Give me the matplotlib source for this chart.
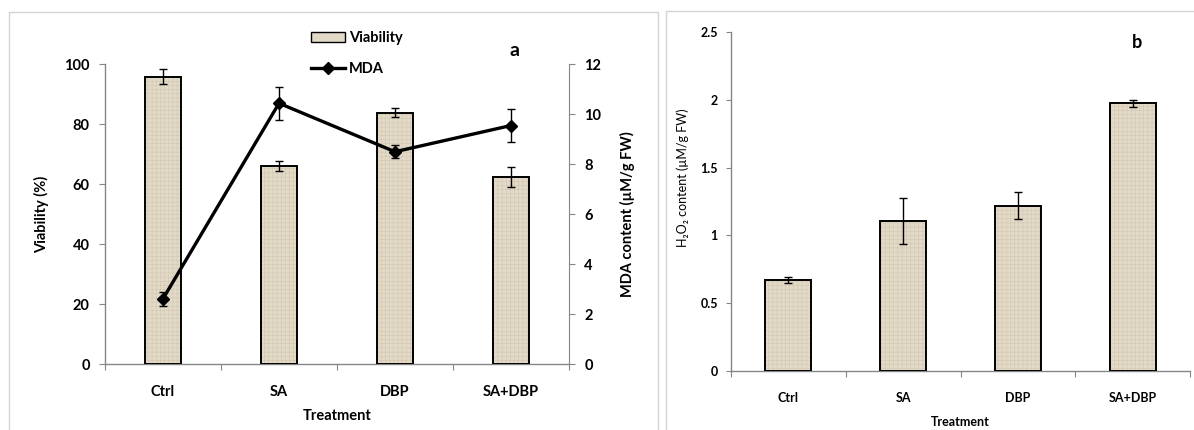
import matplotlib
matplotlib.use("Agg")
import matplotlib.pyplot as plt
from matplotlib.patches import Rectangle, Patch
from matplotlib.lines import Line2D

plt.rcParams['font.family'] = ['Lato', 'DejaVu Sans']
plt.rcParams['font.weight'] = 'bold'
plt.rcParams['hatch.linewidth'] = 0.35

# ---------------- data ----------------
categories = ["Ctrl", "SA", "DBP", "SA+DBP"]
viability = [95.8, 66.1, 83.8, 62.4]
viability_err = [2.4, 1.7, 1.6, 3.3]
mda = [2.61, 10.43, 8.49, 9.54]
mda_err = [0.29, 0.65, 0.27, 0.66]
h2o2 = [0.671, 1.106, 1.219, 1.974]
h2o2_err = [0.021, 0.17, 0.10, 0.026]

W, H = 1194, 430
fig = plt.figure(figsize=(W / 100, H / 100), dpi=100)

def fx(px):
    return px / W

def fy(py):
    return 1 - py / H

AXC = '#868686'
FACE = '#e2d9c7'
HATCHC = '#d0c5af'
FSA = 10.5
FSB = 9

# panel frames
fig.add_artist(Rectangle((fx(9), fy(440)), fx(658) - fx(9), fy(12) - fy(440),
                         transform=fig.transFigure, fill=False, ec='#d4d4d4', lw=1.0))
fig.add_artist(Rectangle((fx(666), fy(440)), fx(1200) - fx(666), fy(11) - fy(440),
                         transform=fig.transFigure, fill=False, ec='#d4d4d4', lw=1.0))

xpos = [i + 0.5 for i in range(len(categories))]


def style_axes(ax, tick_fs, xlab_pad):
    ax.set_xlim(0, len(categories))
    ax.set_xticks(range(len(categories) + 1))
    ax.set_xticklabels([])
    ax.set_xticks(xpos, minor=True)
    ax.set_xticklabels(categories, minor=True, fontsize=tick_fs, fontweight='bold')
    ax.tick_params(axis='x', which='minor', length=0, pad=xlab_pad)
    ax.tick_params(axis='x', which='major', length=4, direction='out', color=AXC)
    ax.spines['top'].set_visible(False)
    for s in ('left', 'bottom', 'right'):
        ax.spines[s].set_color(AXC)
        ax.spines[s].set_linewidth(1.0)


def draw_bars(ax, vals, errs, width):
    ax.bar(xpos, vals, width=width, color=FACE, hatch='++++', edgecolor=HATCHC,
           linewidth=0, zorder=2)
    ax.bar(xpos, vals, width=width, facecolor='none', edgecolor='black',
           linewidth=1.4, zorder=3)
    ax.errorbar(xpos, vals, yerr=errs, fmt='none', ecolor='black', elinewidth=1.0,
                capsize=3, capthick=1.0, zorder=4)


# ---------------- panel a ----------------
axa = fig.add_axes([fx(105), fy(364), fx(569) - fx(105), fy(64) - fy(364)])
draw_bars(axa, viability, viability_err, 0.315)
axa.set_ylim(0, 100)
axa.set_yticks(range(0, 101, 20))
axa.tick_params(axis='y', length=4, direction='out', color=AXC, labelsize=FSA, pad=7)
style_axes(axa, FSA, 15)
axa.spines['right'].set_visible(False)
axa.set_ylabel("Viability (%)", fontsize=FSA, fontweight='bold', va='center')
axa.yaxis.set_label_coords((42 - 105) / 464, 0.5)
axa.set_xlabel("Treatment", fontsize=FSA, fontweight='bold', va='center')
axa.xaxis.set_label_coords(0.5, (364 - 416) / 300)

axr = axa.twinx()
axr.plot(xpos, mda, color='black', lw=2.4, marker='D', markersize=6, zorder=5)
axr.errorbar(xpos, mda, yerr=mda_err, fmt='none', ecolor='black', elinewidth=1.0,
             capsize=3, capthick=1.0, zorder=5)
axr.set_ylim(0, 12)
axr.set_yticks(range(0, 13, 2))
axr.tick_params(axis='y', length=4, direction='out', color=AXC, labelsize=FSA, pad=7)
axr.spines['top'].set_visible(False)
axr.spines['left'].set_visible(False)
axr.spines['bottom'].set_visible(False)
axr.spines['right'].set_color(AXC)
axr.set_ylabel("MDA content (µM/g FW)", fontsize=FSA, fontweight='bold',
               rotation=90, va='center')
axr.yaxis.set_label_coords((627 - 105) / 464, 0.5)

handles = [Patch(facecolor=FACE, edgecolor='black', linewidth=1.0),
           Line2D([0], [0], color='black', lw=2.4, marker='D', markersize=6)]
fig.legend(handles, ["Viability", "MDA"], loc='upper left',
           bbox_to_anchor=(fx(311), fy(31)), frameon=False,
           handlelength=2.3, handleheight=0.65, handletextpad=0.3, labelspacing=1.15,
           borderpad=0, borderaxespad=0, prop={'weight': 'bold', 'size': FSA})

fig.text(fx(515), fy(51), "a", fontsize=14, fontweight='bold', ha='center', va='center')

# ---------------- panel b ----------------
axb = fig.add_axes([fx(731), fy(371), fx(1190) - fx(731), fy(32) - fy(371)])
draw_bars(axb, h2o2, h2o2_err, 0.4)
axb.set_ylim(0, 2.5)
axb.set_yticks([0, 0.5, 1, 1.5, 2, 2.5])
axb.set_yticklabels(["0", "0.5", "1", "1.5", "2", "2.5"])
axb.tick_params(axis='y', length=3.5, direction='out', color=AXC, labelsize=FSB, pad=6)
style_axes(axb, FSB, 15)
axb.spines['right'].set_visible(False)
axb.set_ylabel("H₂O₂ content (µM/g FW)", fontsize=FSB, fontweight='normal', va='center')
axb.yaxis.set_label_coords((683 - 731) / 459, 0.57)
axb.set_xlabel("Treatment", fontsize=FSB, fontweight='bold', va='center')
axb.xaxis.set_label_coords(0.5, (371 - 422) / 339)

fig.text(fx(1137), fy(43), "b", fontsize=13, fontweight='bold', ha='center', va='center')

fig.savefig("out.png", dpi=100)
